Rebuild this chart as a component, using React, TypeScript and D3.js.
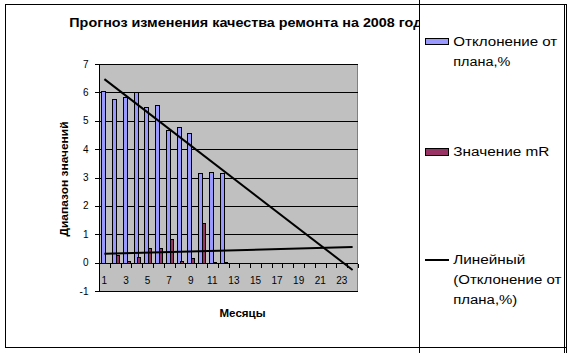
import React from "react";
import * as d3 from "d3";

const months = d3.range(1, 25);
const xTickLabels = ["1", "3", "5", "7", "9", "11", "13", "15", "17", "19", "21", "23"];
const deviation = [6.05, 5.78, 5.82, 6.03, 5.49, 5.54, 4.69, 4.79, 4.58, 3.17, 3.2, 3.17];
const mR: (number | null)[] = [null, 0.28, 0.04, 0.2, 0.52, 0.52, 0.84, 0.06, 0.17, 1.4, 0.03, 0.03];
const yTicks = [-1, 0, 1, 2, 3, 4, 5, 6, 7];

const title = "Прогноз изменения качества ремонта на 2008 год";
const yTitle = "Диапазон значений";
const xTitle = "Месяцы";

const FONT = "'Liberation Sans', Arial, sans-serif";

function linReg(vals: (number | null)[]) {
  const pts = vals
    .map((v, i) => ({ x: i + 1, y: v }))
    .filter((p) => p.y !== null) as { x: number; y: number }[];
  const mx = d3.mean(pts, (p) => p.x)!;
  const my = d3.mean(pts, (p) => p.y)!;
  const sxy = d3.sum(pts, (p) => (p.x - mx) * (p.y - my));
  const sxx = d3.sum(pts, (p) => (p.x - mx) ** 2);
  const b = sxy / sxx;
  const a = my - b * mx;
  return (x: number) => a + b * x;
}

export default function App() {
  const W = 574;
  const H = 353;
  const x = d3.scaleBand<number>().domain(months).range([99, 358]).padding(0);
  const y = d3.scaleLinear().domain([-1, 7]).range([291, 64]);
  const cw = x.bandwidth();
  const sub = d3.scaleBand<string>().domain(["dev", "mr"]).range([cw * 0.2, cw * 0.9]);
  const y0 = y(0);
  const px = (v: number) => Math.round(v) + 0.5;

  const devFit = linReg(deviation);
  const mrFit = linReg(mR);
  const devLine = d3
    .line<number>()
    .x((m) => x(m)! + cw / 2)
    .y((m) => y(devFit(m)))([1, 24]);
  const mrLine = d3
    .line<number>()
    .x((m) => x(m)! + cw / 2)
    .y((m) => y(mrFit(m)))([1, 24]);

  return (
    <svg
      width={W}
      height={H}
      style={{ position: "absolute", left: 0, top: 0, background: "#fff" }}
      fontFamily={FONT}
    >
      {/* outer chart frame */}
      <rect x={5.5} y={4.5} width={561} height={343} fill="#fff" stroke="#000" />

      {/* title (partially hidden by legend box) */}
      <text x={69.3} y={26.5} fontSize={12} fontWeight="bold" textLength={353} lengthAdjust="spacingAndGlyphs">
        {title}
      </text>

      {/* plot area */}
      <rect x={99.5} y={px(y(7))} width={258} height={px(y(-1)) - px(y(7))} fill="#C0C0C0" stroke="#808080" shapeRendering="crispEdges" />
      {yTicks.map((t) => (
        <line key={"g" + t} x1={99.5} x2={357.5} y1={px(y(t))} y2={px(y(t))} stroke="#000" shapeRendering="crispEdges" />
      ))}

      {/* bars */}
      {deviation.map((v, i) => {
        const bx = x(i + 1)! + sub("dev")!;
        return (
          <rect
            key={"d" + i}
            x={px(bx)}
            y={px(y(v))}
            width={Math.round(sub.bandwidth())}
            height={px(y0) - px(y(v))}
            fill="#9999FF"
            stroke="#000"
            strokeWidth={1}
            shapeRendering="crispEdges"
          />
        );
      })}
      {mR.map((v, i) =>
        v === null || v <= 0 ? null : (
          <rect
            key={"m" + i}
            x={px(x(i + 1)! + sub("mr")!)}
            y={px(y(v))}
            width={Math.round(sub.bandwidth()) - 1}
            height={Math.max(0, px(y0) - px(y(v)))}
            fill="#993366"
            stroke="#000"
            strokeWidth={1}
            shapeRendering="crispEdges"
          />
        )
      )}

      {/* axes */}
      <line x1={99.5} x2={99.5} y1={px(y(7))} y2={px(y(-1))} stroke="#000" shapeRendering="crispEdges" />
      {yTicks.map((t) => (
        <g key={"yt" + t}>
          <line x1={95} x2={99.5} y1={px(y(t))} y2={px(y(t))} stroke="#000" shapeRendering="crispEdges" />
          <text x={88.5} y={y(t) + 3.5} fontSize={10} textAnchor="end">
            {t}
          </text>
        </g>
      ))}
      <line x1={99.5} x2={357.5} y1={px(y0)} y2={px(y0)} stroke="#000" shapeRendering="crispEdges" />
      {months.concat([25]).map((m) => {
        const tx = px(m === 25 ? 358 : x(m)!);
        return <line key={"xt" + m} x1={tx} x2={tx} y1={px(y0)} y2={px(y0) + 4} stroke="#000" shapeRendering="crispEdges" />;
      })}
      {xTickLabels.map((l) => (
        <text key={"xl" + l} x={x(+l)! + cw / 2} y={283.5} fontSize={10} textAnchor="middle">
          {l}
        </text>
      ))}

      {/* trend lines */}
      <path d={devLine!} fill="none" stroke="#000" strokeWidth={2} />
      <path d={mrLine!} fill="none" stroke="#000" strokeWidth={2} />

      {/* axis titles */}
      <text
        transform="translate(67.5,179) rotate(-90)"
        fontSize={11}
        fontWeight="bold"
        textAnchor="middle"
        textLength={115}
        lengthAdjust="spacingAndGlyphs"
      >
        {yTitle}
      </text>
      <text x={242.5} y={317} fontSize={11} fontWeight="bold" textAnchor="middle" textLength={46} lengthAdjust="spacingAndGlyphs">
        {xTitle}
      </text>

      {/* legend box */}
      <rect x={419.5} y={4.5} width={145} height={343} fill="#fff" stroke="none" />
      <line x1={419.5} x2={419.5} y1={0} y2={353} stroke="#000" />
      <line x1={419.5} x2={566.5} y1={4.5} y2={4.5} stroke="#000" />
      <line x1={564.5} x2={564.5} y1={4.5} y2={353} stroke="#000" />
      <line x1={566.5} x2={566.5} y1={4.5} y2={353} stroke="#000" />
      <line x1={5.5} x2={566.5} y1={347.5} y2={347.5} stroke="#000" />

      <rect x={425.5} y={38.5} width={23} height={6} fill="#9999FF" stroke="#000" shapeRendering="crispEdges" />
      <text x={453.3} y={46} fontSize={12} textLength={104} lengthAdjust="spacingAndGlyphs">Отклонение от</text>
      <text x={453.3} y={65.7} fontSize={12} textLength={57} lengthAdjust="spacingAndGlyphs">плана,%</text>

      <rect x={425.5} y={148.5} width={23} height={7} fill="#993366" stroke="#000" shapeRendering="crispEdges" />
      <text x={453.3} y={155.7} fontSize={12} textLength={96} lengthAdjust="spacingAndGlyphs">Значение mR</text>

      <line x1={425} x2={449} y1={260} y2={260} stroke="#000" strokeWidth={2} />
      <text x={453.3} y={264.3} fontSize={12} textLength={72} lengthAdjust="spacingAndGlyphs">Линейный</text>
      <text x={453.3} y={284.3} fontSize={12} textLength={108} lengthAdjust="spacingAndGlyphs">(Отклонение от</text>
      <text x={453.3} y={304} fontSize={12} textLength={64} lengthAdjust="spacingAndGlyphs">плана,%)</text>
    </svg>
  );
}
